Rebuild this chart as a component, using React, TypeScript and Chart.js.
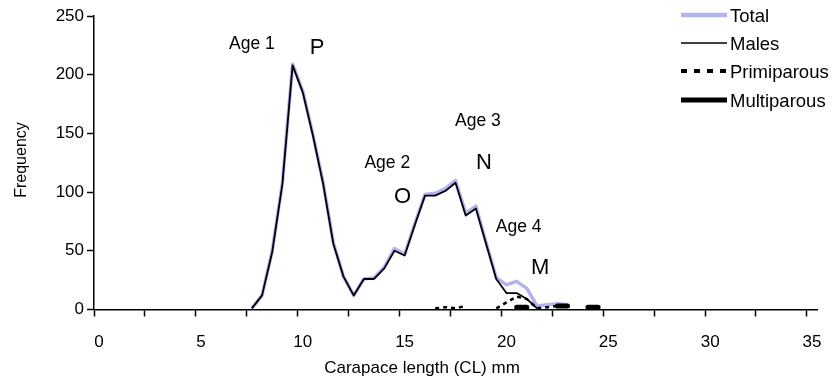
import { useEffect, useRef } from 'react';
import { Chart, registerables } from 'chart.js';

Chart.register(...registerables);

// Category axis: carapace length classes, 0.5 mm wide
const AXIS_LENGTHS = [
  0, 0.5, 1, 1.5, 2, 2.5, 3, 3.5, 4, 4.5, 5, 5.5, 6, 6.5, 7, 7.5, 8, 8.5, 9, 9.5,
  10, 10.5, 11, 11.5, 12, 12.5, 13, 13.5, 14, 14.5, 15, 15.5, 16, 16.5, 17, 17.5,
  18, 18.5, 19, 19.5, 20, 20.5, 21, 21.5, 22, 22.5, 23, 23.5, 24, 24.5, 25, 25.5,
  26, 26.5, 27, 27.5, 28, 28.5, 29, 29.5, 30, 30.5, 31, 31.5, 32, 32.5, 33, 33.5,
  34, 34.5, 35,
];
const X_TICK_LABELS = ['0', '5', '10', '15', '20', '25', '30', '35'];
const Y_TICKS = [0, 50, 100, 150, 200, 250];

// Length classes that hold observations
const SAMPLE_LENGTHS = [
  7.5, 8, 8.5, 9, 9.5, 10, 10.5, 11, 11.5, 12, 12.5, 13, 13.5, 14, 14.5, 15, 15.5,
  16, 16.5, 17, 17.5, 18, 18.5, 19, 19.5, 20, 20.5, 21, 21.5, 22, 22.5, 23, 23.5,
  24, 24.5,
];

const TOTAL = [
  1, 12, 50, 108, 209, 186, 149, 108, 57, 28, 12, 26, 27, 36, 52, 47, 73,
  98, 99, 103, 110, 82, 88, 57, 27, 21, 24, 18, 3, 4, 5, 4, null,
  2, 2,
];
const MALES = [
  1, 12, 49, 107, 208, 185, 148, 107, 56, 28, 12, 26, 26, 35, 50, 46, 72,
  97, 97, 101, 108, 80, 86, 56, 26, 14, 14, 9, 1, null, null, null, null,
  null, null,
];
const PRIMIPAROUS = [
  null, null, null, null, null, null, null, null, null, null, null, null, null, null, null, null, null,
  null, 1, 2, 1, 3, null, null, 1, 6, 11, 9, 1, 2, 3, null, null,
  null, null,
];
const MULTIPAROUS = [
  null, null, null, null, null, null, null, null, null, null, null, null, null, null, null, null, null,
  null, null, null, null, null, null, null, null, null, 2, 2, null, null, 3, 3, null,
  2, 2,
];

// Cohort notes placed in data coordinates (length in mm, frequency)
const NOTE_TEXT = ['Age 1', 'P', 'Age 2', 'O', 'Age 3', 'N', 'Age 4', 'M'];
const NOTE_LENGTH = [7.5, 10.7, 14.15, 14.9, 18.6, 18.9, 20.6, 21.65];
const NOTE_FREQ = [226, 223, 125, 96, 160, 125, 70, 35];
const NOTE_LARGE = [false, true, false, true, false, true, false, true];

const X_TITLE = 'Carapace length (CL) mm';
const Y_TITLE = 'Frequency';

const FONT = "'Liberation Sans', Arial, Helvetica, sans-serif";
const TOTAL_COLOR = '#b3b3f0';

const toPoints = (values: (number | null)[]) =>
  SAMPLE_LENGTHS.map((len, i) => ({ x: String(len), y: values[i] }));

const notesPlugin = {
  id: 'cohortNotes',
  afterDatasetsDraw(chart: any) {
    const { ctx, scales } = chart;
    ctx.save();
    ctx.fillStyle = '#000';
    ctx.textAlign = 'center';
    ctx.textBaseline = 'middle';
    NOTE_TEXT.forEach((text, i) => {
      const x = scales.x.getPixelForValue(NOTE_LENGTH[i] * 2);
      const y = scales.y.getPixelForValue(NOTE_FREQ[i]);
      ctx.font = NOTE_LARGE[i] ? `22px ${FONT}` : `17.5px ${FONT}`;
      ctx.fillText(text, x, y);
    });
    ctx.restore();
  },
};

// Axis titles: the x title sits left of the axis centre
const titlesPlugin = {
  id: 'axisTitles',
  afterDraw(chart: any) {
    const { ctx } = chart;
    ctx.save();
    ctx.fillStyle = '#000';
    ctx.textAlign = 'center';
    ctx.textBaseline = 'middle';
    ctx.font = `17px ${FONT}`;
    ctx.fillText(X_TITLE, 422, 368);
    ctx.translate(22, 160);
    ctx.rotate(-Math.PI / 2);
    ctx.font = `16px ${FONT}`;
    ctx.fillText(Y_TITLE, 0, 0);
    ctx.restore();
  },
};

// Legend drawn in the top-right corner, over the plot area
const legendPlugin = {
  id: 'cornerLegend',
  afterDraw(chart: any) {
    const { ctx } = chart;
    const rows = [15, 43, 71, 100];
    const widths = [4.5, 1.5, 4, 5];
    const dashes = [[], [], [6, 7], []];
    ctx.save();
    chart.data.datasets.forEach((ds: any, i: number) => {
      const y = rows[i];
      ctx.beginPath();
      ctx.strokeStyle = ds.borderColor;
      ctx.lineWidth = widths[i];
      ctx.setLineDash(dashes[i]);
      ctx.lineCap = 'butt';
      ctx.moveTo(681, y);
      ctx.lineTo(727, y);
      ctx.stroke();
      ctx.setLineDash([]);
      ctx.fillStyle = '#000';
      ctx.font = `18.5px ${FONT}`;
      ctx.textAlign = 'left';
      ctx.textBaseline = 'middle';
      ctx.fillText(ds.label, 730, y + 2);
    });
    ctx.restore();
  },
};

export default function App() {
  const canvasRef = useRef<HTMLCanvasElement>(null);

  useEffect(() => {
    if (!canvasRef.current) return;
    const chart = new Chart(canvasRef.current, {
      type: 'line',
      data: {
        labels: AXIS_LENGTHS.map(String),
        datasets: [
          {
            label: 'Total',
            data: toPoints(TOTAL) as any,
            borderColor: TOTAL_COLOR,
            borderWidth: 3.5,
            order: 3,
          },
          {
            label: 'Males',
            data: toPoints(MALES) as any,
            borderColor: '#000',
            borderWidth: 1.8,
            order: 2,
          },
          {
            label: 'Primiparous',
            data: toPoints(PRIMIPAROUS) as any,
            borderColor: '#000',
            borderWidth: 2.5,
            borderDash: [4, 4],
            order: 1,
          },
          {
            label: 'Multiparous',
            data: toPoints(MULTIPAROUS) as any,
            borderColor: '#000',
            borderWidth: 5,
            borderCapStyle: 'round',
            order: 0,
          },
        ],
      },
      options: {
        animation: false,
        responsive: false,
        events: [],
        layout: { padding: { left: 0, right: 9, top: 16, bottom: 0 } },
        elements: {
          point: { radius: 0 },
          line: { tension: 0, borderJoinStyle: 'round', fill: false },
        },
        plugins: { legend: { display: false }, tooltip: { enabled: false } },
        scales: {
          x: {
            type: 'category',
            offset: true,
            grid: {
              offset: true,
              drawOnChartArea: false,
              tickLength: 7,
              tickWidth: 1.5,
              tickColor: (c: any) =>
                typeof c.index === 'number' && c.index % 5 === 0 ? '#000' : 'rgba(0,0,0,0)',
            },
            border: { color: '#000', width: 1.5 },
            ticks: {
              autoSkip: false,
              maxRotation: 0,
              padding: 15.5,
              color: '#000',
              font: { family: FONT, size: 17 },
              callback: (_v: any, i: number) => {
                const lab = String(AXIS_LENGTHS[i]);
                return X_TICK_LABELS.includes(lab) ? lab : '';
              },
            },
            afterFit: (s: any) => {
              s.height = 78.5;
            },
          },
          y: {
            min: 0,
            max: 250,
            grid: { drawOnChartArea: false, tickLength: 7, tickWidth: 1.5, tickColor: '#000' },
            border: { color: '#000', width: 1.5 },
            afterBuildTicks: (s: any) => {
              s.ticks = Y_TICKS.map((v) => ({ value: v }));
            },
            ticks: {
              padding: 3,
              color: '#000',
              font: { family: FONT, size: 17 },
            },
            afterFit: (s: any) => {
              s.width = 94;
            },
          },
        },
      },
      plugins: [notesPlugin, titlesPlugin, legendPlugin],
    });
    return () => chart.destroy();
  }, []);

  return (
    <div style={{ position: 'absolute', left: 0, top: 0, width: 837, height: 388, background: '#fff' }}>
      <canvas ref={canvasRef} width={837} height={388} />
    </div>
  );
}
